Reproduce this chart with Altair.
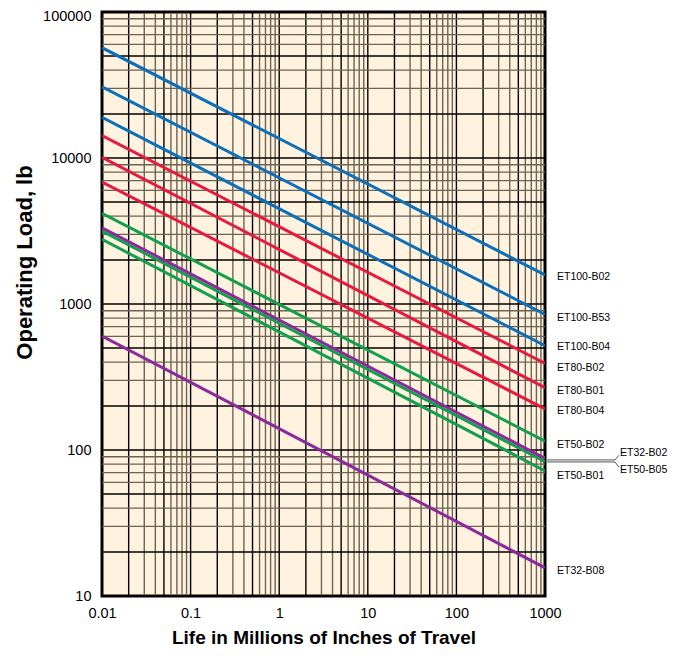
import altair as alt
import pandas as pd

# ---- data ----
series = ["ET100-B02", "ET100-B53", "ET100-B04", "ET80-B02", "ET80-B01", "ET80-B04",
          "ET50-B02", "ET50-B05", "ET50-B01", "ET32-B02", "ET32-B08"]
family = ["ET100", "ET100", "ET100", "ET80", "ET80", "ET80",
          "ET50", "ET50", "ET50", "ET32", "ET32"]
life_start = [0.01] * 11
life_end = [1000] * 11
load_start = [56950, 30770, 18990, 14220, 10110, 6850, 4180, 3162, 2773, 3330, 604]
load_end = [1581, 849, 518, 392, 267, 191, 115, 83.2, 72, 87.7, 15.6]

label_text = ["ET100-B02", "ET100-B53", "ET100-B04", "ET80-B02", "ET80-B01", "ET80-B04",
              "ET50-B02", "ET50-B01", "ET32-B08"]
label_load = [1531, 805, 505, 366, 255, 185, 109, 66.7, 14.8]
side_text = ["ET32-B02", "ET50-B05"]
side_load = [94.9, 73]

x_ticks = [0.01, 0.1, 1, 10, 100, 1000]
y_ticks = [10, 100, 1000, 10000, 100000]
mults = [1, 2, 3, 4, 5, 6, 7, 8, 9]

fam_domain = ["ET100", "ET80", "ET50", "ET32"]
fam_colors = ["#0b6fba", "#e8193e", "#12a04e", "#8c2a9c"]

W, H = 443, 584

rows = []
for s, f, xs, xe, ys, ye in zip(series, family, life_start, life_end, load_start, load_end):
    rows.append({"series": s, "family": f, "life": xs, "load": ys})
    rows.append({"series": s, "family": f, "life": xe, "load": ye})
lines_df = pd.DataFrame(rows)

vgrid = []
for e in range(-2, 3):
    for m in mults:
        vgrid.append({"v": m * 10 ** e, "dark": m in (1, 2, 5)})
vgrid.append({"v": 1000, "dark": True})
hgrid = []
for e in range(1, 5):
    for m in mults:
        hgrid.append({"v": m * 10 ** e, "dark": m in (1, 2, 5)})
hgrid.append({"v": 100000, "dark": True})
vgrid_df = pd.DataFrame(vgrid)
hgrid_df = pd.DataFrame(hgrid)

xscale = alt.Scale(type="log", domain=[0.01, 1000], nice=False)
yscale = alt.Scale(type="log", domain=[10, 100000], nice=False)

FONT = "Liberation Sans"

x_axis = alt.Axis(values=x_ticks, grid=False, ticks=False, domain=False,
                  labelExpr="datum.value < 1 ? format(datum.value, '.2~f') : format(datum.value, 'd')",
                  labelFont=FONT, labelFontSize=14.5, labelColor="black", labelPadding=10,
                  labelFlush=False, labelOverlap=False,
                  title="Life in Millions of Inches of Travel", titleFont=FONT,
                  titleFontSize=19, titleFontWeight="bold", titleColor="black",
                  titleBaseline="middle", titleY=41)
y_axis = alt.Axis(values=y_ticks, grid=False, ticks=False, domain=False,
                  labelExpr="format(datum.value, 'd')",
                  labelFont=FONT, labelFontSize=14.5, labelColor="black", labelPadding=11,
                  labelOffset=alt.ExprRef(expr="datum.value == 100000 ? 4 : 0"),
                  labelFlush=False, labelOverlap=False,
                  title="Operating Load, lb", titleFont=FONT, titleFontSize=22,
                  titleFontWeight="bold", titleColor="black",
                  titleAngle=270, titleBaseline="middle", titleAlign="center",
                  titleX=-78, titleY=250)

GRID_COLORS = alt.Scale(domain=[True, False], range=["#000000", "#6e6252"])

vg = alt.Chart(vgrid_df).mark_rule(strokeWidth=1.4).encode(
    x=alt.X("v:Q", scale=xscale, axis=x_axis),
    color=alt.Color("dark:N", scale=GRID_COLORS, legend=None),
)
hg = alt.Chart(hgrid_df).mark_rule(strokeWidth=1.4).encode(
    y=alt.Y("v:Q", scale=yscale, axis=y_axis),
    color=alt.Color("dark:N", scale=GRID_COLORS, legend=None),
)

lines = alt.Chart(lines_df).mark_line(strokeWidth=3, clip=True).encode(
    x=alt.X("life:Q", scale=xscale),
    y=alt.Y("load:Q", scale=yscale),
    detail="series:N",
    stroke=alt.Stroke("family:N", scale=alt.Scale(domain=fam_domain, range=fam_colors), legend=None),
)

labels = alt.Chart(pd.DataFrame({"t": label_text, "load": label_load})).mark_text(
    align="left", baseline="middle", font=FONT, fontSize=10.5, color="black"
).encode(x=alt.value(W + 12), y=alt.Y("load:Q", scale=yscale), text="t:N")

side_labels = alt.Chart(pd.DataFrame({"t": side_text, "load": side_load})).mark_text(
    align="left", baseline="middle", font=FONT, fontSize=10.5, color="black"
).encode(x=alt.value(W + 75), y=alt.Y("load:Q", scale=yscale), text="t:N")

# leader lines for the two labels outside
lead_load = [85.5, 82.8]
lead_tip = [92.0, 76.0]
lead_df = pd.DataFrame({"a": lead_load, "b": lead_tip})
lead_h = alt.Chart(lead_df).mark_rule(color="#555555", strokeWidth=1).encode(
    x=alt.value(W + 2), x2=alt.value(W + 70), y=alt.Y("a:Q", scale=yscale))
lead_d = alt.Chart(lead_df).mark_rule(color="#555555", strokeWidth=1).encode(
    x=alt.value(W + 70), x2=alt.value(W + 74), y=alt.Y("a:Q", scale=yscale), y2="b:Q")

chart = alt.layer(vg, hg, lines, labels, side_labels, lead_h, lead_d).properties(
    width=W, height=H,
    autosize=alt.AutoSizeParams(type="none"),
    padding={"left": 94, "top": 4, "right": 126, "bottom": 56},
).configure_view(
    fill="#fff3df", stroke="black", strokeWidth=3
).resolve_scale(color="independent")

chart.save("out.html", embed_options={"renderer": "svg", "actions": False})
